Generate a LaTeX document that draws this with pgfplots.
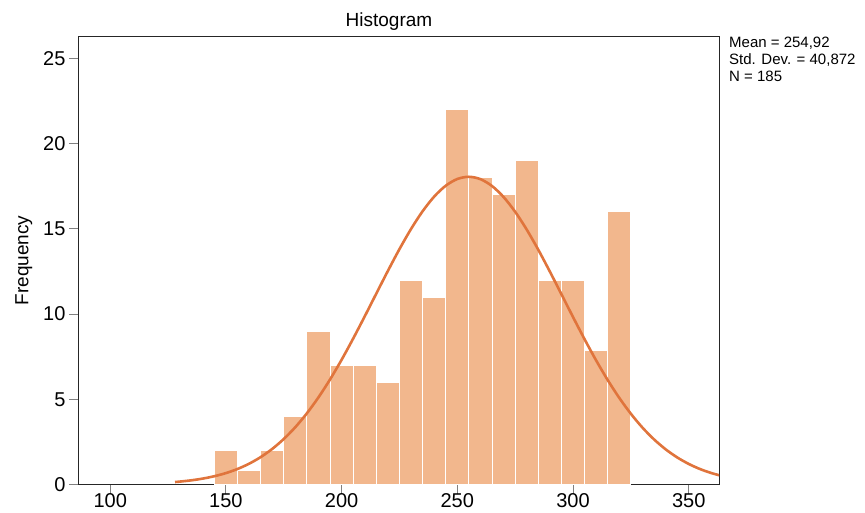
\documentclass[border=0pt]{standalone}
\usepackage{pgfplots}
\pgfplotsset{compat=1.18}
\usepackage{fontspec}
\setmainfont{Liberation Sans}

\definecolor{barfill}{RGB}{242,183,141}
\definecolor{normline}{RGB}{224,116,60}

% bin centres (width 10) and frequencies
\pgfplotstableread{
x    f
150  2
160  0.8
170  2
180  4
190  9
200  7
210  7
220  6
230  12
240  11
250  22
260  18
270  17
280  19
290  12
300  12
310  7.85
320  16
}\bins

% fitted normal curve, N*w*pdf(x), mean 254.92, sd 40.872
\pgfplotstableread{
x    y
128  0.146
130  0.169
135  0.244
140  0.347
145  0.486
150  0.670
155  0.910
160  1.218
165  1.606
170  2.086
175  2.670
180  3.365
185  4.180
190  5.115
195  6.165
200  7.321
205  8.565
210  9.871
215  11.206
220  12.535
225  13.813
230  14.994
235  16.034
240  16.894
245  17.533
250  17.927
255  18.057
260  17.918
265  17.516
270  16.869
275  16.004
280  14.958
285  13.774
290  12.494
295  11.165
300  9.828
305  8.524
310  7.282
315  6.130
320  5.083
325  4.152
330  3.341
335  2.649
340  2.069
345  1.592
350  1.207
355  0.901
360  0.663
365  0.480
}\normcurve

\begin{document}
\begin{tikzpicture}
\begin{axis}[
  scale only axis,
  width=640pt, height=448pt,
  xmin=86.5, xmax=363.1,
  ymin=0, ymax=26.29,
  xtick={100,150,...,350},
  ytick={0,5,...,25},
  xtick pos=bottom, ytick pos=left,
  tick align=outside,
  major tick length=10pt,
  tick style={black!50, line width=0.9pt},
  axis line style={black!85, line width=1pt},
  tick label style={font=\fontsize{20}{24}\selectfont},
  xticklabel style={yshift=4pt},
  /pgf/number format/assume math mode=true,
  ylabel={Frequency},
  ylabel style={font=\fontsize{19}{22}\selectfont, xshift=0pt, yshift=4pt},
  title={Histogram},
  title style={font=\fontsize{19}{22}\selectfont, xshift=-10pt, yshift=-3pt},
  clip mode=individual,
]
\addplot[ybar, bar width=10, bar shift=0pt, fill=barfill, draw=white, line width=1pt]
  table[x=x, y=f] {\bins};
\addplot[normline, line width=2.6pt, smooth, no markers] table[x=x, y=y] {\normcurve};
\node[anchor=north west, align=left, inner sep=0pt,
      font=\fontsize{15}{17}\selectfont]
  at (rel axis cs:1,1) [xshift=10pt] {Mean = 254,92\\Std. Dev. = 40,872\\N = 185};
\coordinate (ll) at (rel axis cs:0,0);
\end{axis}
\pgfresetboundingbox
\path (ll) ++(-79pt,-28.5pt) rectangle ++(865pt,513pt);
\end{tikzpicture}
\end{document}
